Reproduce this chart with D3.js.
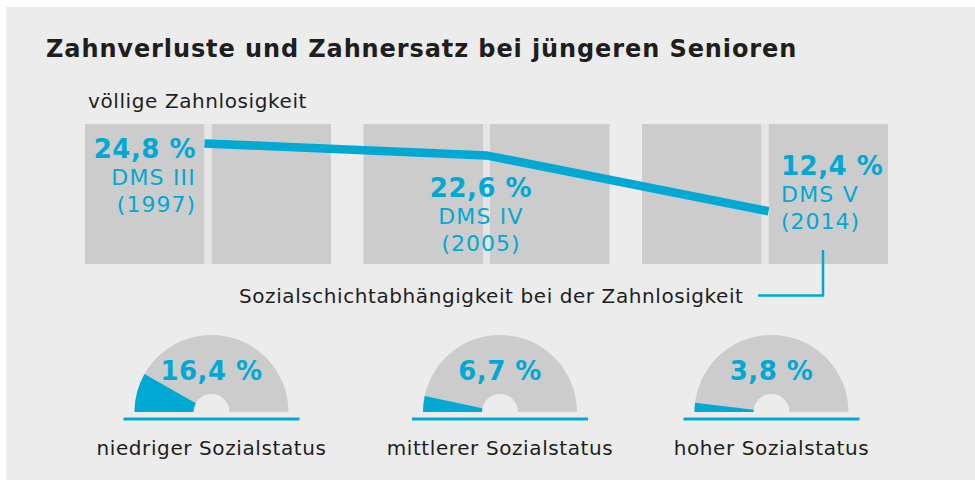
<!DOCTYPE html>
<meta charset="utf-8">
<script src="https://d3js.org/d3.v7.min.js"></script>
<style>
  body { margin: 0; background: #fff; }
  text { font-family: "DejaVu Sans", Verdana, sans-serif; }
</style>
<body>
<div id="chart"></div>
<script>
  // data
  var surveys = ["DMS III", "DMS IV", "DMS V"];
  var years = ["1997", "2005", "2014"];
  var edentulism = [24.8, 22.6, 12.4];
  var statusGroups = ["niedriger Sozialstatus", "mittlerer Sozialstatus", "hoher Sozialstatus"];
  var statusValues = [16.4, 6.7, 3.8];

  var fmt = function (v) { return d3.format(".1f")(v).replace(".", ",") + " %"; };

  var width = 975, height = 480;
  var blue = "#00a9d4", bar = "#cccccc", bg = "#ebeceb", ink = "#1e1e1e";

  var svg = d3.select("#chart").append("svg")
    .attr("width", width)
    .attr("height", height);

  // panel
  svg.append("rect")
    .attr("x", 6).attr("y", 7)
    .attr("width", width - 6).attr("height", height - 7)
    .attr("fill", bg);

  // title
  svg.append("text")
    .attr("x", 46).attr("y", 57)
    .attr("font-size", "24px")
    .attr("font-weight", "bold")
    .attr("letter-spacing", "0.9px")
    .attr("fill", ink)
    .text("Zahnverluste und Zahnersatz bei jüngeren Senioren");

  svg.append("text")
    .attr("x", 88).attr("y", 108)
    .attr("font-size", "20px")
    .attr("letter-spacing", "0.6px")
    .attr("fill", ink)
    .text("völlige Zahnlosigkeit");

  // top panel: three groups, each two grey blocks with a gap
  var x = d3.scaleBand()
    .domain(surveys)
    .range([85, 888])
    .paddingInner(0.1167)
    .paddingOuter(0);
  var gap = 7;
  var blockTop = 124, blockBottom = 264;

  var y = d3.scaleLinear()
    .domain([0, 30])
    .range([279, 115]);

  var groups = svg.append("g").selectAll("g")
    .data(surveys)
    .join("g")
    .attr("transform", function (d) { return "translate(" + x(d) + ",0)"; });

  groups.append("rect")
    .attr("x", 0).attr("y", blockTop)
    .attr("width", (x.bandwidth() - gap) / 2)
    .attr("height", blockBottom - blockTop)
    .attr("fill", bar);
  groups.append("rect")
    .attr("x", (x.bandwidth() + gap) / 2).attr("y", blockTop)
    .attr("width", (x.bandwidth() - gap) / 2)
    .attr("height", blockBottom - blockTop)
    .attr("fill", bar);
  groups.append("rect")
    .attr("x", (x.bandwidth() - gap) / 2).attr("y", blockTop)
    .attr("width", gap)
    .attr("height", blockBottom - blockTop)
    .attr("fill", "#e4e5e4");

  // the trend line runs through the gaps
  var pts = surveys.map(function (d, i) {
    var cx = x(d) + x.bandwidth() / 2;
    if (i === 0) cx -= gap / 2;
    if (i === surveys.length - 1) cx += gap / 2;
    return [cx, y(edentulism[i])];
  });
  svg.append("path")
    .attr("d", d3.line()(pts))
    .attr("fill", "none")
    .attr("stroke", blue)
    .attr("stroke-width", 8.5)
    .attr("stroke-linejoin", "miter");

  // value labels (anchor and baseline per group)
  var labelX = [196, 481, 781];
  var labelY = [158, 197, 175];
  var labelAnchor = ["end", "middle", "start"];
  surveys.forEach(function (d, i) {
    var t = svg.append("text")
      .attr("x", labelX[i]).attr("y", labelY[i])
      .attr("text-anchor", labelAnchor[i])
      .attr("fill", blue);
    t.append("tspan")
      .attr("font-size", "26px").attr("font-weight", "bold")
      .attr("letter-spacing", "0.5px")
      .text(fmt(edentulism[i]));
    t.append("tspan")
      .attr("x", labelX[i]).attr("dy", 27)
      .attr("font-size", "22px")
      .attr("letter-spacing", "1.2px")
      .text(d);
    t.append("tspan")
      .attr("x", labelX[i]).attr("dy", 27)
      .attr("font-size", "22px")
      .attr("letter-spacing", "1px")
      .text("(" + years[i] + ")");
  });

  // callout
  svg.append("text")
    .attr("x", 239).attr("y", 303)
    .attr("font-size", "20px")
    .attr("letter-spacing", "0.58px")
    .attr("fill", ink)
    .text("Sozialschichtabhängigkeit bei der Zahnlosigkeit");
  svg.append("path")
    .attr("d", "M758,295.5H823V250")
    .attr("fill", "none")
    .attr("stroke", blue)
    .attr("stroke-width", 2.5);

  // gauges
  var gaugeX = [211.5, 500, 771.5];
  var gaugeBase = 412;
  var rOuter = 77, rInner = 18;
  var arc = d3.arc().innerRadius(rInner).outerRadius(rOuter);
  var share = d3.scaleLinear().domain([0, 100]).range([-Math.PI / 2, Math.PI / 2]);

  statusGroups.forEach(function (name, i) {
    var g = svg.append("g")
      .attr("transform", "translate(" + gaugeX[i] + "," + gaugeBase + ")");
    g.append("path")
      .attr("d", arc({ startAngle: -Math.PI / 2, endAngle: Math.PI / 2 }))
      .attr("fill", bar);
    g.append("path")
      .attr("d", arc({ startAngle: -Math.PI / 2, endAngle: share(statusValues[i]) }))
      .attr("fill", blue);
    g.append("line")
      .attr("x1", -88).attr("x2", 88)
      .attr("y1", 7).attr("y2", 7)
      .attr("stroke", blue)
      .attr("stroke-width", 3);
    g.append("text")
      .attr("x", 0).attr("y", -32)
      .attr("text-anchor", "middle")
      .attr("font-size", "26px").attr("font-weight", "bold")
      .attr("letter-spacing", "0.5px")
      .attr("fill", blue)
      .text(fmt(statusValues[i]));
    g.append("text")
      .attr("x", 0).attr("y", 43)
      .attr("text-anchor", "middle")
      .attr("font-size", "20px")
      .attr("letter-spacing", "0.6px")
      .attr("fill", ink)
      .text(name);
  });
</script>
</body>
